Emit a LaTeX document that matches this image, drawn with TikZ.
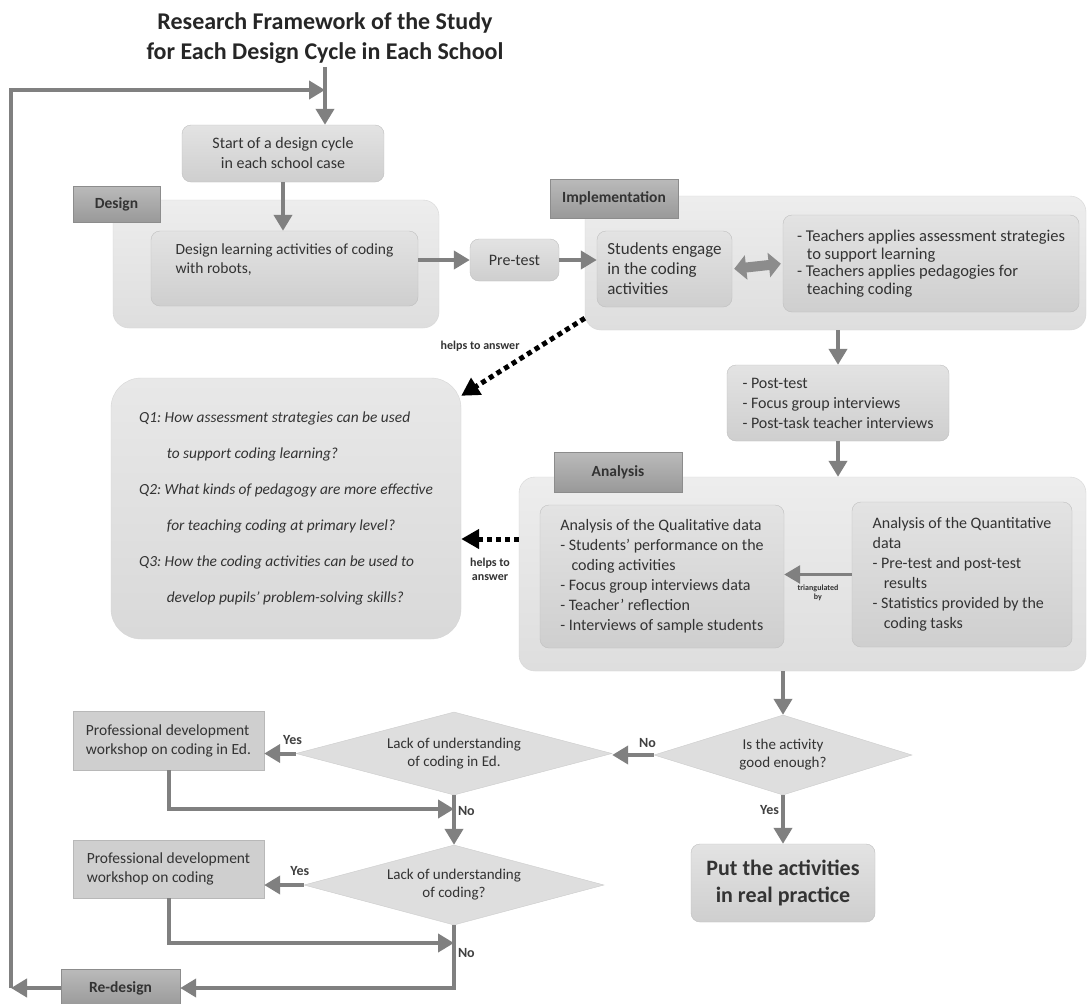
\documentclass[tikz,border=0pt]{standalone}
\usepackage{fontspec}
\setmainfont{Carlito}
\usepackage{tikz}
\usetikzlibrary{arrows.meta,shapes.geometric}
\frenchspacing

\begin{document}
\begin{tikzpicture}[
  x=1pt, y=-1pt,
  font=\fontsize{16}{20}\selectfont,
  every node/.style={text=black!80},
  cont/.style={rounded corners=16pt, draw=black!16, top color=black!7, bottom color=black!13},
  inbox/.style={rounded corners=9pt, draw=black!25, top color=black!11, bottom color=black!19},
  tag/.style={draw=black!45, top color=black!27, bottom color=black!40,
              font=\fontsize{15.5}{18}\selectfont\bfseries},
  dia/.style={diamond, aspect=3.6, inner sep=0pt, draw=black!20, fill=black!13,
              align=center, font=\fontsize{15}{18}\selectfont},
  pd/.style={draw=black!28, fill=black!19, align=left,
             font=\fontsize{15.5}{19}\selectfont},
  ar/.style={-{Triangle[length=16pt,width=18pt]}, line width=4pt, draw=black!50},
  dotar/.style={-{Triangle[length=18pt,width=19pt]}, line width=5pt, black,
                dash pattern=on 5pt off 4pt},
  dbl/.style={{Triangle[length=12pt,width=24pt]}-{Triangle[length=12pt,width=24pt]},
              line width=10pt, draw=black!45, shorten <=2pt, shorten >=2pt},
  yn/.style={font=\fontsize{14}{16}\selectfont\bfseries, text=black!75, inner sep=2pt},
  hl/.style={font=\fontsize{12}{14}\selectfont\bfseries, align=center, inner sep=1pt},
]
\useasboundingbox (0,0) rectangle (1088,1004);
\fill[white] (0,0) rectangle (1088,1004);

% --- title and start -----------------------------------------------------
\node[font=\fontsize{24}{30}\selectfont\bfseries, text=black!85, align=center] (title) at (325,38)
     {Research Framework of the Study\\for Each Design Cycle in Each School};
\node[inbox, minimum width=202pt, minimum height=57pt, align=center] (start) at (283,153.5)
     {Start of a design cycle\\in each school case};

% --- design phase ----------------------------------------------------------
\node[cont, minimum width=326pt, minimum height=128pt] (desc) at (276,264) {};
\node[tag, minimum width=87pt, minimum height=36pt] (destag) at (116.5,204) {Design};
\node[inbox, minimum width=267pt, minimum height=75pt, align=left,
      font=\fontsize{15.5}{19}\selectfont] (desact)
     at (284.5,268.5) {Design learning activities of coding\\with robots,\\\mbox{}};
\node[inbox, minimum width=89pt, minimum height=42pt] (pre) at (514.5,260) {Pre-test};

% --- implementation phase --------------------------------------------------
\node[cont, minimum width=501pt, minimum height=134pt] (impc) at (835.5,263) {};
\node[tag, minimum width=128pt, minimum height=39pt] (imptag) at (614,198.5) {Implementation};
\node[inbox, minimum width=135pt, minimum height=76pt, align=left,
      font=\fontsize{17}{20}\selectfont] (stud) at (664.5,269)
     {Students engage\\in the coding\\activities};
\node[inbox, minimum width=296pt, minimum height=97pt, align=left, inner xsep=3pt,
      font=\fontsize{16.5}{17.5}\selectfont] (teach) at (931,263.5)
     {- Teachers applies assessment strategies\\\hspace*{0.6em}to support learning\\
      - Teachers applies pedagogies for\\\hspace*{0.6em}teaching coding};
\node[inbox, minimum width=222pt, minimum height=76pt, align=left] (post)
     at (838,403) {- Post-test\\- Focus group interviews\\- Post-task teacher interviews};

% --- analysis phase --------------------------------------------------------
\node[cont, minimum width=567pt, minimum height=194pt] (anac) at (802.5,574) {};
\node[tag, minimum width=128pt, minimum height=40pt] (anatag) at (618,472) {Analysis};
\node[inbox, minimum width=244pt, minimum height=143pt, align=left] (qual)
     at (662,576.5)
     {Analysis of the Qualitative data\\- Students' performance on the\\\hspace*{0.7em}coding activities\\
      - Focus group interviews data\\- Teacher' reflection\\- Interviews of sample students};
\node[inbox, minimum width=220pt, minimum height=145pt, align=left] (quant)
     at (962,574.5)
     {Analysis of the Quantitative\\data\\- Pre-test and post-test\\\hspace*{0.7em}results\\
      - Statistics provided by the\\\hspace*{0.7em}coding tasks};

% --- research questions ----------------------------------------------------
\node[rounded corners=30pt, draw=black!16, top color=black!9, bottom color=black!15,
      minimum width=350pt, minimum height=261pt, align=left,
      font=\fontsize{15.4}{36}\selectfont\itshape] (qbox) at (286,508.5)
     {Q1: How assessment strategies can be used\\\hspace*{1.8em}to support coding learning?\\
      Q2: What kinds of pedagogy are more effective\\\hspace*{1.8em}for teaching coding at primary level?\\
      Q3: How the coding activities can be used to\\\hspace*{1.8em}develop pupils' problem-solving skills?};

% --- decisions and redesign ------------------------------------------------
\node[dia, minimum width=258pt, minimum height=80pt] (good) at (783,755)
     {Is the activity\\good enough?};
\node[inbox, minimum width=184pt, minimum height=78pt, align=center,
      font=\fontsize{22}{27}\selectfont\bfseries] (put) at (783,883)
     {Put the activities\\in real practice};
\node[dia, minimum width=316pt, minimum height=83pt] (lacked) at (454,753.5)
     {Lack of understanding\\of coding in Ed.};
\node[dia, minimum width=300pt, minimum height=80pt] (lackc) at (454,885)
     {Lack of understanding\\of coding?};
\node[pd, minimum width=191pt, minimum height=59pt] (pd1) at (168.5,740.5)
     {Professional development\\workshop on coding in Ed.};
\node[pd, minimum width=191pt, minimum height=58pt] (pd2) at (168.5,869)
     {Professional development\\workshop on coding};
\node[tag, minimum width=119pt, minimum height=38pt] (redesign) at (120.5,988) {Re-design};

\coordinate (j1) at (454,809);
\coordinate (j2) at (454,943);
\coordinate (lbot) at (11,988);
\coordinate (ltop) at (11,90);
\coordinate (d2) at ([yshift=35pt]anac.west);

% --- main flow -------------------------------------------------------------
\draw[ar] (title.south) -- (title.south |- start.north);
\draw[ar] (start.south) -- (start.south |- desact.north);
\draw[ar] (desact.east |- pre) -- (pre.west);
\draw[ar] (pre.east) -- (pre.east -| stud.west);
\draw[dbl] (stud.east) -- (teach.west);
\draw[ar] (impc.south -| post.north) -- (post.north);
\draw[ar] (post.south) -- (post.south |- anac.north);
\draw[ar, line width=3pt] (quant.west) -- (quant.west -| qual.east)
     node[midway, below=9pt, align=center, inner sep=0pt,
          font=\fontsize{8}{9}\selectfont\bfseries] (tri) {triangulated\\by};
\draw[ar] (anac.south -| good.north) -- (good.north);

% research questions are answered by the phases
\draw[dotar] ([yshift=12pt]impc.south west) -- ([yshift=-18pt]qbox.north east)
     node[hl, pos=.5, anchor=east, yshift=11pt] (help1) {helps to answer};
\draw[dotar] (d2) -- (d2 -| qbox.east)
     node[hl, midway, below=16pt] (help2) {helps to\\answer};

% --- decision loop ---------------------------------------------------------
\draw[ar] (good.west) -- node[yn, pos=.15, above=3pt] {No} (good.west -| lacked.east);
\draw[ar] (good.south) -- node[yn, pos=.3, left] {Yes} (put.north);
\draw[ar] (lacked.west) -- node[yn, pos=.1, above=5pt] {Yes} (lacked.west -| pd1.east);
\draw[ar] (pd1.south) |- (j1);
\draw[ar] (lacked.south) -- node[yn, pos=.32, right] {No} (lackc.north);
\draw[ar] (lackc.west) -- node[yn, pos=.1, above=5pt] {Yes} (lackc.west -| pd2.east);
\draw[ar] (pd2.south) |- (j2);
\draw[ar] (lackc.south) |- node[yn, pos=.22, right] {No} (redesign.east);
\draw[ar] (redesign.west) -- (lbot);
\draw[ar] (lbot) -- (ltop) -- (ltop -| title.south);
\end{tikzpicture}
\end{document}
